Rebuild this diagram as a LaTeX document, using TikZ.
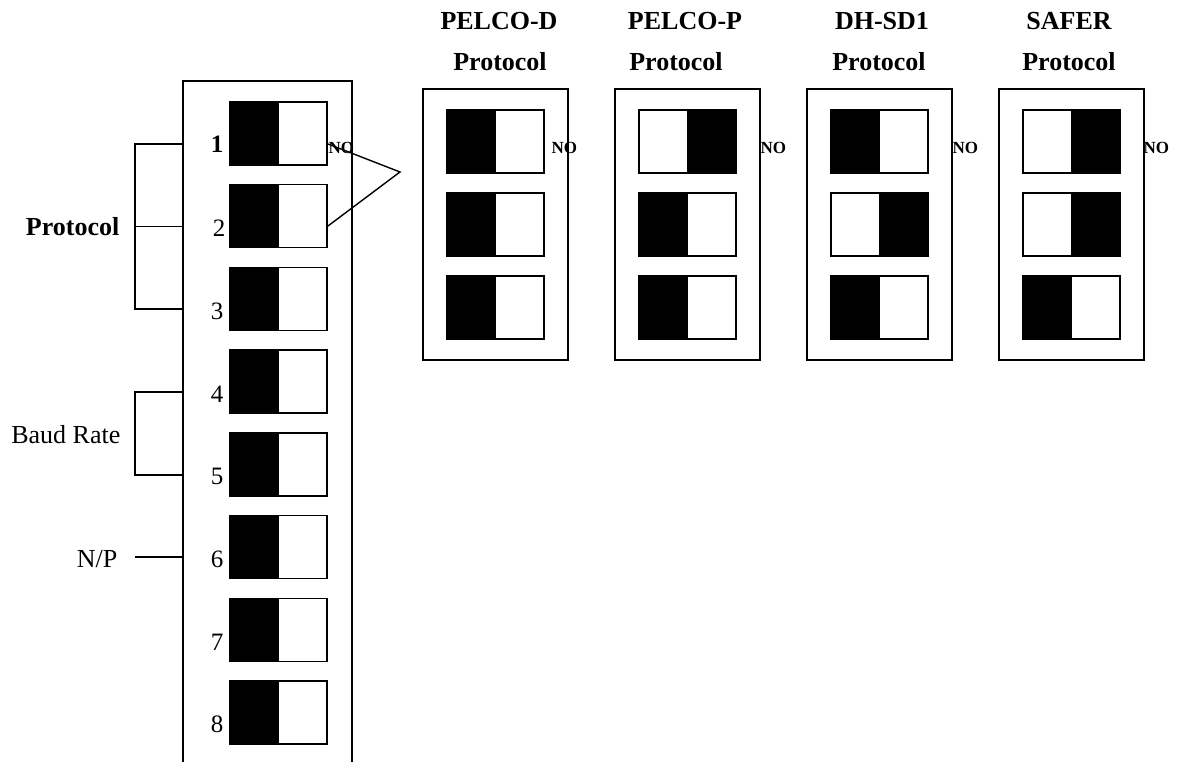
\documentclass[tikz,border=0pt]{standalone}
\usepackage{fontspec}
\setmainfont{Liberation Serif}
\usetikzlibrary{positioning}

\begin{document}
\begin{tikzpicture}[x=1pt, y=-1pt, line width=1.4pt,
    half/.style={draw, minimum width=48.5pt, minimum height=63pt, inner sep=0pt, outer sep=0pt},
    dark/.style={half, fill=black},
    light/.style={half, fill=white},
    panel/.style={draw, minimum width=145pt, minimum height=271pt, inner sep=0pt, outer sep=0pt},
    heading/.style={font=\bfseries\fontsize{26}{30}\selectfont, inner sep=0pt, anchor=base},
    sidetext/.style={font=\fontsize{26}{30}\selectfont, inner sep=0pt, anchor=base east},
    num/.style={font=\fontsize{25}{29}\selectfont, inner sep=0pt, anchor=base east},
    notext/.style={font=\bfseries\fontsize{17}{20}\selectfont, inner sep=0pt, anchor=base west}]
        \useasboundingbox (0,0) rectangle (1179,762);

        % main switch block
        \coordinate (bl) at (183,762);
        \coordinate (tl) at (183,81);
        \coordinate (tr) at (352,81);
        \coordinate (br) at (352,762);
        \draw (bl) -- (tl) -- (tr) -- (br);

        \node[dark, anchor=north west](m1l) at (230,102) {};
        \node[light](m1r)[right = 0pt of m1l] {};
        \node[dark](m2l)[below = 19.7pt of m1l] {};
        \node[light](m2r)[right = 0pt of m2l] {};
        \node[dark](m3l)[below = 19.7pt of m2l] {};
        \node[light](m3r)[right = 0pt of m3l] {};
        \node[dark](m4l)[below = 19.7pt of m3l] {};
        \node[light](m4r)[right = 0pt of m4l] {};
        \node[dark](m5l)[below = 19.7pt of m4l] {};
        \node[light](m5r)[right = 0pt of m5l] {};
        \node[dark](m6l)[below = 19.7pt of m5l] {};
        \node[light](m6r)[right = 0pt of m6l] {};
        \node[dark](m7l)[below = 19.7pt of m6l] {};
        \node[light](m7r)[right = 0pt of m7l] {};
        \node[dark](m8l)[below = 19.7pt of m7l] {};
        \node[light](m8r)[right = 0pt of m8l] {};

        \node[num](n1) at ([shift={(-6,-12)}]m1l.south west) {\textbf{1}};
        \node[num](n2) at ([shift={(-4,-11)}]m2l.south west) {2};
        \node[num](n3) at ([shift={(-6,-11)}]m3l.south west) {3};
        \node[num](n4) at ([shift={(-6,-11)}]m4l.south west) {4};
        \node[num](n5) at ([shift={(-6,-11)}]m5l.south west) {5};
        \node[num](n6) at ([shift={(-6,-11)}]m6l.south west) {6};
        \node[num](n7) at ([shift={(-6,-11)}]m7l.south west) {7};
        \node[num](n8) at ([shift={(-6,-11)}]m8l.south west) {8};

        \node[notext](no0) at ([shift={(1,-11)}]m1r.south east) {NO};

        % groups on the left
        \node[draw, minimum width=48pt, minimum height=165pt, inner sep=0pt, outer sep=0pt, anchor=north west](pbr) at (135,144) {};
        \draw (pbr.west) -- (pbr.east);
        \node[draw, minimum width=48pt, minimum height=83pt, inner sep=0pt, outer sep=0pt, anchor=north west](bbr) at (135,392) {};
        \coordinate (np) at (135,557);
        \draw (np) -- (np -| tl);

        \node[sidetext, font=\bfseries\fontsize{26}{30}\selectfont](lp) at (120,236) {Protocol};
        \node[sidetext](lb) at (121,443) {Baud Rate};
        \node[sidetext](ln) at (118,567) {N/P};

        % wedge to the protocol tables
        \coordinate (wtip) at (400,172);
        \draw ([shift={(1,10.5)}]m1r.east) -- (wtip) -- ([shift={(0,10.5)}]m2r.east);

        % protocol tables
        \node[panel, anchor=north west](pd) at (423,89) {};
        \node[panel](pp)[right = 47pt of pd] {};
        \node[panel](ds)[right = 47pt of pp] {};
        \node[panel](sf)[right = 47pt of ds] {};

        \node[dark, anchor=north west](pd1l) at ([shift={(24,21)}]pd.north west) {};
        \node[light](pd1r)[right = 0pt of pd1l] {};
        \node[dark](pd2l)[below = 20pt of pd1l] {};
        \node[light](pd2r)[right = 0pt of pd2l] {};
        \node[dark](pd3l)[below = 20pt of pd2l] {};
        \node[light](pd3r)[right = 0pt of pd3l] {};

        \node[light, anchor=north west](pp1l) at ([shift={(24,21)}]pp.north west) {};
        \node[dark](pp1r)[right = 0pt of pp1l] {};
        \node[dark](pp2l)[below = 20pt of pp1l] {};
        \node[light](pp2r)[right = 0pt of pp2l] {};
        \node[dark](pp3l)[below = 20pt of pp2l] {};
        \node[light](pp3r)[right = 0pt of pp3l] {};

        \node[dark, anchor=north west](ds1l) at ([shift={(24,21)}]ds.north west) {};
        \node[light](ds1r)[right = 0pt of ds1l] {};
        \node[light](ds2l)[below = 20pt of ds1l] {};
        \node[dark](ds2r)[right = 0pt of ds2l] {};
        \node[dark](ds3l)[below = 20pt of ds2l] {};
        \node[light](ds3r)[right = 0pt of ds3l] {};

        \node[light, anchor=north west](sf1l) at ([shift={(24,21)}]sf.north west) {};
        \node[dark](sf1r)[right = 0pt of sf1l] {};
        \node[light](sf2l)[below = 20pt of sf1l] {};
        \node[dark](sf2r)[right = 0pt of sf2l] {};
        \node[dark](sf3l)[below = 20pt of sf2l] {};
        \node[light](sf3r)[right = 0pt of sf3l] {};

        \node[notext](no1) at ([shift={(-17,65)}]pd.north east) {NO};
        \node[notext](no2) at ([shift={(0,65)}]pp.north east) {NO};
        \node[notext](no3) at ([shift={(0,65)}]ds.north east) {NO};
        \node[notext](no4) at ([shift={(-1,65)}]sf.north east) {NO};

        % headings
        \node[heading](hpd) at (499,30) {PELCO-D};
        \node[heading](hpd') at (500,71) {Protocol};
        \node[heading](hpp) at (685,30) {PELCO-P};
        \node[heading](hpp') at (676,71) {Protocol};
        \node[heading](hds) at (882,30) {DH-SD1};
        \node[heading](hds') at (879,71) {Protocol};
        \node[heading](hsf) at (1069,30) {SAFER};
        \node[heading](hsf') at (1069,71) {Protocol};
    \end{tikzpicture}
\end{document}
